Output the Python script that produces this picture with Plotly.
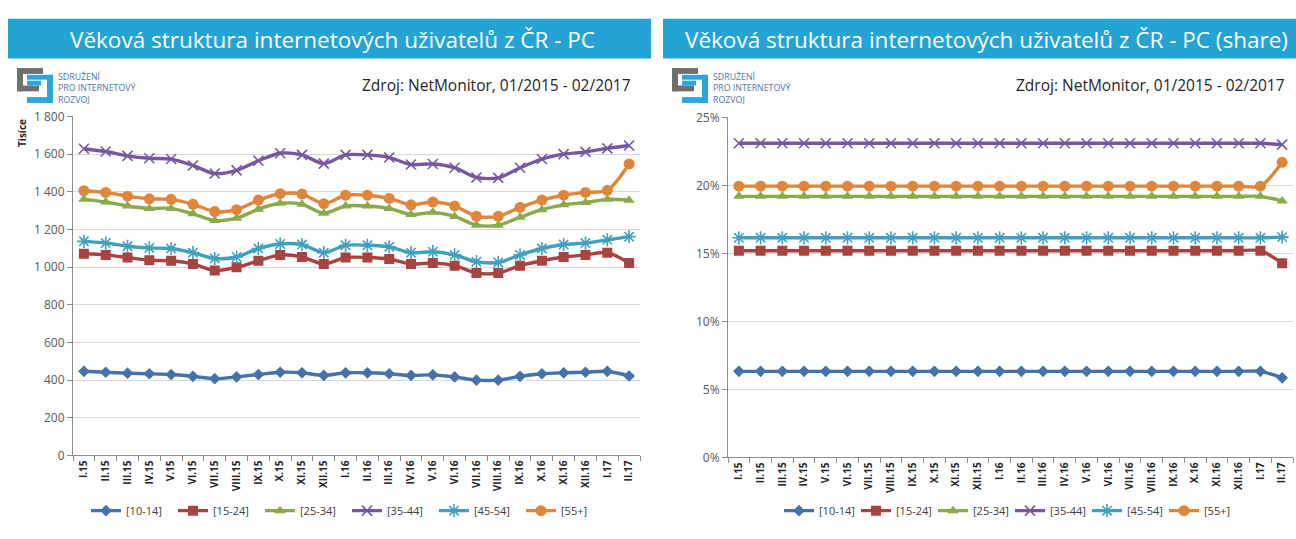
import plotly.graph_objects as go

W, H = 1296, 539

months = ["I.15", "II.15", "III.15", "IV.15", "V.15", "VI.15", "VII.15", "VIII.15", "IX.15",
          "X.15", "XI.15", "XII.15", "I.16", "II.16", "III.16", "IV.16", "V.16", "VI.16",
          "VII.16", "VIII.16", "IX.16", "X.16", "XI.16", "XII.16", "I.17", "II.17"]

series_names = ["[10-14]", "[15-24]", "[25-34]", "[35-44]", "[45-54]", "[55+]"]

# Absolute numbers (thousands)
abs_10_14 = [447, 442, 437, 434, 430, 420, 408, 417, 430, 442, 439, 425, 439, 439, 434, 425,
             428, 417, 400, 400, 420, 434, 439, 442, 447, 422]
abs_15_24 = [1071, 1065, 1051, 1037, 1034, 1017, 982, 999, 1034, 1065, 1054, 1017, 1051, 1051,
             1043, 1017, 1022, 1008, 969, 969, 1008, 1034, 1054, 1065, 1077, 1022]
abs_25_34 = [1360, 1346, 1325, 1312, 1312, 1283, 1248, 1260, 1308, 1339, 1334, 1286, 1325, 1325,
             1312, 1279, 1291, 1269, 1223, 1223, 1265, 1305, 1331, 1343, 1360, 1355]
abs_35_44 = [1629, 1614, 1591, 1578, 1574, 1540, 1497, 1514, 1565, 1605, 1596, 1550, 1596, 1596,
             1582, 1545, 1548, 1528, 1476, 1474, 1528, 1574, 1600, 1612, 1631, 1646]
abs_45_54 = [1137, 1128, 1111, 1102, 1099, 1077, 1046, 1054, 1099, 1123, 1120, 1077, 1116, 1116,
             1108, 1077, 1082, 1065, 1029, 1025, 1065, 1099, 1120, 1128, 1145, 1162]
abs_55_plus = [1406, 1397, 1377, 1363, 1360, 1334, 1295, 1305, 1356, 1390, 1388, 1337, 1382, 1382,
               1365, 1331, 1346, 1325, 1270, 1270, 1317, 1356, 1382, 1397, 1408, 1548]

# Shares (%)
share_10_14 = [6.33] * 25 + [5.85]
share_15_24 = [15.2] * 25 + [14.27]
share_25_34 = [19.2] * 25 + [18.85]
share_35_44 = [23.1] * 25 + [23.0]
share_45_54 = [16.15] * 25 + [16.2]
share_55_plus = [19.95] * 25 + [21.7]

abs_series = [abs_10_14, abs_15_24, abs_25_34, abs_35_44, abs_45_54, abs_55_plus]
share_series = [share_10_14, share_15_24, share_25_34, share_35_44, share_45_54, share_55_plus]

left_yticks = [0, 200, 400, 600, 800, 1000, 1200, 1400, 1600, 1800]
left_yticktext = ["0", "200", "400", "600", "800", "1 000", "1 200", "1 400", "1 600", "1 800"]
right_yticks = [0, 5, 10, 15, 20, 25]
right_yticktext = ["0%", "5%", "10%", "15%", "20%", "25%"]

titles = ["Věková struktura internetových uživatelů z ČR - PC",
          "Věková struktura internetových uživatelů z ČR - PC (share)"]
source_text = "Zdroj: NetMonitor, 01/2015 - 02/2017"
logo_lines = ["SDRUŽENÍ", "PRO INTERNETOVÝ", "ROZVOJ"]
y_title = "Tisíce"

colors = ["#4572A8", "#A94341", "#8BAA4B", "#7558A0", "#40A0BF", "#E0863A"]
symbols = ["diamond", "square", "triangle-up", "x-thin-open", "asterisk-open", "circle"]
sizes = [9, 10, 10, 10, 11, 11]


def px(x):
    return x / W


def py(y):
    return 1 - y / H


fig = go.Figure()

for i, name in enumerate(series_names):
    open_sym = symbols[i].endswith("open")
    mk = dict(symbol=symbols[i], size=sizes[i], color=colors[i],
              line=dict(color=colors[i], width=1.6 if open_sym else 0))
    fig.add_trace(go.Scatter(x=months, y=abs_series[i], name=name, mode="lines+markers",
                             line=dict(color=colors[i], width=3.4, shape="spline", smoothing=0.8),
                             marker=mk, xaxis="x", yaxis="y", legend="legend"))
for i, name in enumerate(series_names):
    open_sym = symbols[i].endswith("open")
    mk = dict(symbol=symbols[i], size=sizes[i], color=colors[i],
              line=dict(color=colors[i], width=1.6 if open_sym else 0))
    fig.add_trace(go.Scatter(x=months, y=share_series[i], name=name, mode="lines+markers",
                             line=dict(color=colors[i], width=3.4, shape="spline", smoothing=0.8),
                             marker=mk, xaxis="x2", yaxis="y2", legend="legend2"))

axis_common_x = dict(type="category", range=[-0.5, 25.5], tickson="boundaries", ticks="outside",
                     ticklen=5, tickcolor="#8c8c8c", showline=True, linecolor="#8c8c8c",
                     linewidth=1, showgrid=False, tickangle=-90,
                     tickfont=dict(family="Open Sans", size=10, color="#262626", weight="bold"))
axis_common_y = dict(ticks="outside", ticklen=5, tickcolor="#8c8c8c", showline=True,
                     linecolor="#8c8c8c", linewidth=1, showgrid=True, gridcolor="#d9d9d9",
                     gridwidth=1, zeroline=False,
                     tickfont=dict(family="Open Sans", size=12, color="#595959"))

fig.update_layout(
    width=W, height=H, autosize=False,
    margin=dict(l=0, r=0, t=0, b=0),
    paper_bgcolor="white", plot_bgcolor="white",
    xaxis=dict(domain=[px(73), px(640)], anchor="y", **axis_common_x),
    yaxis=dict(domain=[py(461), py(111)], anchor="x", range=[0, 1800],
               tickvals=left_yticks, ticktext=left_yticktext, **axis_common_y),
    xaxis2=dict(domain=[px(728), px(1293)], anchor="y2", **axis_common_x),
    yaxis2=dict(domain=[py(463), py(112)], anchor="x2", range=[0, 25],
                tickvals=right_yticks, ticktext=right_yticktext, **axis_common_y),
    legend=dict(orientation="h", x=px(347), y=py(518), xanchor="center", yanchor="middle",
                font=dict(family="Open Sans", size=11, color="#404040"),
                bgcolor="rgba(0,0,0,0)", itemwidth=30, entrywidth=42, tracegroupgap=0),
    legend2=dict(orientation="h", x=px(1010), y=py(518), xanchor="center", yanchor="middle",
                 font=dict(family="Open Sans", size=11, color="#404040"),
                 bgcolor="rgba(0,0,0,0)", itemwidth=30, entrywidth=32, tracegroupgap=0),
    showlegend=True,
)

shapes = []
annotations = []
panels = [(8, 651, 333, 633), (663, 1296, 986, 1287)]
for k, (bx0, bx1, tcx, srcx) in enumerate(panels):
    # title bar
    shapes.append(dict(type="rect", xref="paper", yref="paper", x0=px(bx0), x1=px(bx1),
                       y0=py(51), y1=py(10), fillcolor="#24A3D5", line=dict(width=0), layer="below"))
    annotations.append(dict(text=titles[k], xref="paper", yref="paper", x=px(tcx), y=py(31),
                            xanchor="center", yanchor="middle", showarrow=False,
                            font=dict(family="Open Sans", size=22.5, color="white")))
    # source text
    annotations.append(dict(text=source_text, xref="paper", yref="paper", x=px(srcx), y=py(78),
                            xanchor="right", yanchor="middle", showarrow=False,
                            font=dict(family="Open Sans", size=15.5, color="#262626")))
    # logo
    ox = bx0 + 9
    oy = 61
    gray = "#6f6f6f"
    blue = "#2aa6dc"
    logo_rects = [
        (0, 0, 26, 6, gray), (0, 0, 6, 24, gray), (0, 18, 22, 24, gray),
        (10, 7, 36, 12, blue), (30, 7, 36, 36, blue), (10, 30, 36, 36, blue),
        (10, 13, 24, 18, blue),
    ]
    for (a, b, c, d, col) in logo_rects:
        shapes.append(dict(type="rect", xref="paper", yref="paper", x0=px(ox + a), x1=px(ox + c),
                           y0=py(oy + d), y1=py(oy + b), fillcolor=col, line=dict(width=0)))
    annotations.append(dict(text="<br>".join(logo_lines), xref="paper", yref="paper",
                            x=px(ox + 39), y=py(82), xanchor="left", yanchor="middle",
                            align="left", showarrow=False,
                            font=dict(family="Open Sans", size=8.8, color="#4f7aa8")))

annotations.append(dict(text=y_title, xref="paper", yref="paper", x=px(22), y=py(128),
                        xanchor="center", yanchor="middle", showarrow=False, textangle=-90,
                        font=dict(family="Open Sans", size=10, color="#262626", weight="bold")))

fig.update_layout(shapes=shapes, annotations=annotations)

post_js = ("document.body.style.margin='0';document.body.style.overflow='hidden';"
           "var d=document.getElementById('{plot_id}');d.style.position='fixed';"
           "d.style.left='0px';d.style.top='0px';")
fig.write_html("out.html", config={"displayModeBar": False}, post_script=post_js)
